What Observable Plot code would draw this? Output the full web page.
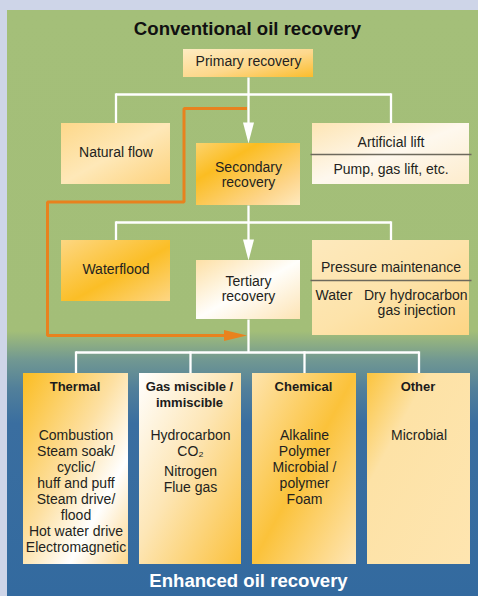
<!DOCTYPE html>
<html><head><meta charset="utf-8">
<script src="https://cdn.jsdelivr.net/npm/d3@7"></script>
<script src="https://cdn.jsdelivr.net/npm/@observablehq/plot@0.6"></script>
<style>html,body{margin:0;padding:0;background:#ced5e8;}svg{display:block}</style>
</head><body><div id="chart"></div>
<script>
// ---------- content ----------
const panelTitles = ["Conventional oil recovery", "Enhanced oil recovery"];
const stages = [["Primary recovery"], ["Secondary", "recovery"], ["Tertiary", "recovery"]];
const leftOptions = ["Natural flow", "Waterflood"];
const rightOptions = ["Artificial lift", "Pressure maintenance"];
const artificialLiftMethods = ["Pump, gas lift, etc."];
const pressureMethods = [["Water"], ["Dry hydrocarbon", "gas injection"]];
const eorCategories = [["Thermal"], ["Gas miscible /", "immiscible"], ["Chemical"], ["Other"]];
const eorMethods = [
  ["Combustion", "Steam soak/", "cyclic/", "huff and puff", "Steam drive/", "flood", "Hot water drive", "Electromagnetic"],
  ["Hydrocarbon", "CO\u2082", "Nitrogen", "Flue gas"],
  ["Alkaline", "Polymer", "Microbial /", "polymer", "Foam"],
  ["Microbial"]
];

// ---------- layout (diagram units = pixels) ----------
const W = 478, H = 596;
const panel = {x1: 7, x2: W, y1: 10, y2: H};
const stageBoxes = [
  {x1: 183, x2: 313, y1: 49, y2: 77, base: 65.5, grad: "gPrimary"},
  {x1: 196, x2: 300, y1: 143, y2: 205, base: 171, grad: "gSecondary"},
  {x1: 196, x2: 300, y1: 260, y2: 319, base: 285, grad: "gTertiary"}
];
const leftBoxes = [
  {x1: 61, x2: 170, y1: 123, y2: 184, base: 156, grad: "gNatural"},
  {x1: 61, x2: 170, y1: 240, y2: 301, base: 273, grad: "gWater"}
];
const rightBoxes = [
  {x1: 312, x2: 469, y1: 123, y2: 184, div: 154, base: 146, grad: "gLift"},
  {x1: 312, x2: 469, y1: 240, y2: 335, div: 280, base: 271.7, grad: "gPressure"}
];
const eorBoxes = [[23, 128, "gThermal"], [139, 241, "gGas"], [252, 356, "gChem"], [367, 470, "gOther"]]
  .map(([x1, x2, grad]) => ({x1, x2, y1: 373, y2: 564, grad}));
const busY = [94, 222, 352];
const lineStep = 16;
const titleBase = [34, 586];
const spine = 248;
const cx = b => (b.x1 + b.x2) / 2;

// ---------- geometry derived from layout ----------
const links = [];
const arrows = [];
function arrowDown(x, yTip, id) {
  arrows.push({id, x: x - 5.5, y: yTip - 21}, {id, x: x + 5.5, y: yTip - 21}, {id, x, y: yTip});
}
[0, 1].forEach(i => {
  const from = stageBoxes[i], to = stageBoxes[i + 1], y = busY[i];
  const lx = cx(leftBoxes[i]), rx = cx(rightBoxes[i]);
  links.push({x1: spine, y1: from.y2, x2: spine, y2: y});
  links.push({x1: lx, y1: y, x2: rx, y2: y});
  links.push({x1: lx, y1: y - 1.15, x2: lx, y2: leftBoxes[i].y1});
  links.push({x1: rx, y1: y - 1.15, x2: rx, y2: rightBoxes[i].y1});
  links.push({x1: spine, y1: y, x2: spine, y2: to.y1 - 18});
  arrowDown(spine, to.y1, "a" + i);
});
{
  const y = busY[2], xs = eorBoxes.map(cx);
  links.push({x1: spine, y1: stageBoxes[2].y2, x2: spine, y2: y});
  links.push({x1: xs[0], y1: y, x2: xs[3], y2: y});
  xs.forEach(x => links.push({x1: x, y1: y - 1.15, x2: x, y2: eorBoxes[0].y1}));
}
const fb = [
  {x: spine - 1.5, y: 108}, {x: 183.5, y: 108}, {x: 183.5, y: 201.5},
  {x: 47, y: 201.5}, {x: 47, y: 335}, {x: 226, y: 335}
];
const tipX = spine - 1.5, tipY = 335;
const fbArrow = [{x: tipX - 23, y: tipY - 5.5}, {x: tipX, y: tipY}, {x: tipX - 23, y: tipY + 5.5}];

const dividers = rightBoxes.map(b => ({x1: b.x1 - 2, x2: b.x2 + 2, y: b.div}));

// ---------- texts ----------
const FS = 14, FB = 13, FT = 18.6;
const normal = [], bold = [], starts = [];
const mid = (base, fs) => base - 0.32 * fs;
stageBoxes.forEach((b, i) => stages[i].forEach((t, k) => normal.push({x: cx(b), y: mid(b.base + k * 15.7, FS), text: t})));
leftBoxes.forEach((b, i) => normal.push({x: cx(b), y: mid(b.base, FS), text: leftOptions[i]}));
rightBoxes.forEach((b, i) => normal.push({x: cx(b), y: mid(b.base, FS), text: rightOptions[i]}));
normal.push({x: cx(rightBoxes[0]), y: mid(rightBoxes[0].div + 19, FS), text: artificialLiftMethods[0]});
starts.push({x: rightBoxes[1].x1 + 3, y: mid(rightBoxes[1].div + 19, FS), text: pressureMethods[0][0]});
starts.push({x: rightBoxes[1].x1 + 51.5, y: mid(rightBoxes[1].div + 19, FS), text: pressureMethods[1][0]});
normal.push({x: 416, y: mid(rightBoxes[1].div + 34.5, FS), text: pressureMethods[1][1]});
eorBoxes.forEach((b, i) => {
  eorCategories[i].forEach((t, k) => bold.push({x: cx(b) - 1, y: mid(b.y1 + 17.7 + k * lineStep, FB), text: t, fs: FB, fill: "#1b1b1b"}));
  let base = b.y1 + 66;
  eorMethods[i].forEach((t, k) => {
    normal.push({x: cx(b), y: mid(base, FS), text: t});
    base += lineStep + (/[\u2080-\u2089]/.test(t) ? 4 : 0);
  });
});
bold.push({x: 247, y: mid(titleBase[0], FT), text: panelTitles[0], fs: FT, fill: "#111111"});
bold.push({x: 248, y: mid(titleBase[1], FT), text: panelTitles[1], fs: FT, fill: "#ffffff"});

const allBoxes = [...stageBoxes, ...leftBoxes, ...rightBoxes, ...eorBoxes];

// ---------- gradients ----------
const grads = {
  gPrimary: [[0, "#feecc2"], [0.55, "#fdd88c"], [1, "#fbbd2c"]],
  gNatural: [[0, "#fdd88a"], [0.5, "#fee8b8"], [1, "#fdd27c"]],
  gSecondary: [[0, "#fcd36e"], [0.3, "#fbbd22"], [0.75, "#fdd58a"], [1, "#fee9be"]],
  gLift: [[0, "#fde5b4"], [0.5, "#fef8ee"], [1, "#fdeccc"]],
  gWater: [[0, "#fdd782"], [0.55, "#fbbe26"], [1, "#fdd684"]],
  gTertiary: [[0, "#fde0a6"], [0.5, "#fffefb"], [1, "#fde4b4"]],
  gPressure: [[0, "#fde9bd"], [0.5, "#fde3aa"], [1, "#fdd584"]],
  gThermal: [[0, "#fbbd22"], [0.45, "#fde0a2"], [0.72, "#ffffff"], [1, "#fdd88e"]],
  gGas: [[0, "#ffffff"], [0.45, "#fde6b6"], [1, "#fbc13c"]],
  gChem: [[0, "#fee4ae"], [0.5, "#fbc23a"], [1, "#fee6b6"]],
  gOther: [[0, "#fbc43e"], [0.3, "#fde2a6"], [1, "#fee5b0"]]
};
const bgStops = [[0, "#a4bf79"], [0.548, "#a3be78"], [0.597, "#719892"], [0.645, "#52809a"], [0.705, "#3a6ea0"], [1, "#336a9f"]];
function defsMark() {
  const g = document.createElementNS("http://www.w3.org/2000/svg", "g");
  const lg = (id, stops, x2, y2) => `<linearGradient id="${id}" x1="0" y1="0" x2="${x2}" y2="${y2}">` +
    stops.map(([o, c]) => `<stop offset="${o}" stop-color="${c}"/>`).join("") + `</linearGradient>`;
  g.innerHTML = "<defs>" + lg("bg", bgStops, 0, 1) +
    Object.entries(grads).map(([id, s]) => lg(id, s, 1, 1)).join("") + "</defs>";
  return g;
}

const font = "'Liberation Sans', Arial, Helvetica, sans-serif";
const chart = Plot.plot({
  width: W, height: H, margin: 0,
  x: {domain: [0, W], range: [0, W], axis: null},
  y: {domain: [0, H], range: [0, H], axis: null},
  color: {type: "identity"},
  style: {background: "#ced5e8", fontFamily: font},
  marks: [
    defsMark,
    Plot.rect([panel], {x1: "x1", x2: "x2", y1: "y1", y2: "y2", fill: "url(#bg)"}),
    Plot.link(links, {x1: "x1", y1: "y1", x2: "x2", y2: "y2", stroke: "white", strokeWidth: 2.3}),
    Plot.line(arrows, {x: "x", y: "y", z: "id", fill: "white", stroke: "none"}),
    Plot.line(fb, {x: "x", y: "y", stroke: "#e8821e", strokeWidth: 3, strokeLinejoin: "miter", strokeLinecap: "butt"}),
    Plot.line(fbArrow, {x: "x", y: "y", fill: "#e8821e", stroke: "none"}),
    Plot.rect(allBoxes, {x1: "x1", x2: "x2", y1: "y1", y2: "y2", fill: d => `url(#${d.grad})`}),
    Plot.link(dividers, {x1: "x1", x2: "x2", y1: "y", y2: "y", stroke: "#6d695c", strokeWidth: 1.5}),
    Plot.text(normal, {x: "x", y: "y", text: "text", fontSize: FS, fill: "#231f20", lineAnchor: "middle"}),
    Plot.text(starts, {x: "x", y: "y", text: "text", fontSize: FS, fill: "#231f20", textAnchor: "start", lineAnchor: "middle"}),
    Plot.text(bold, {x: "x", y: "y", text: "text", fontSize: "fs", fill: "fill", fontWeight: "bold", lineAnchor: "middle"})
  ]
});
document.getElementById("chart").appendChild(chart);
</script></body></html>
